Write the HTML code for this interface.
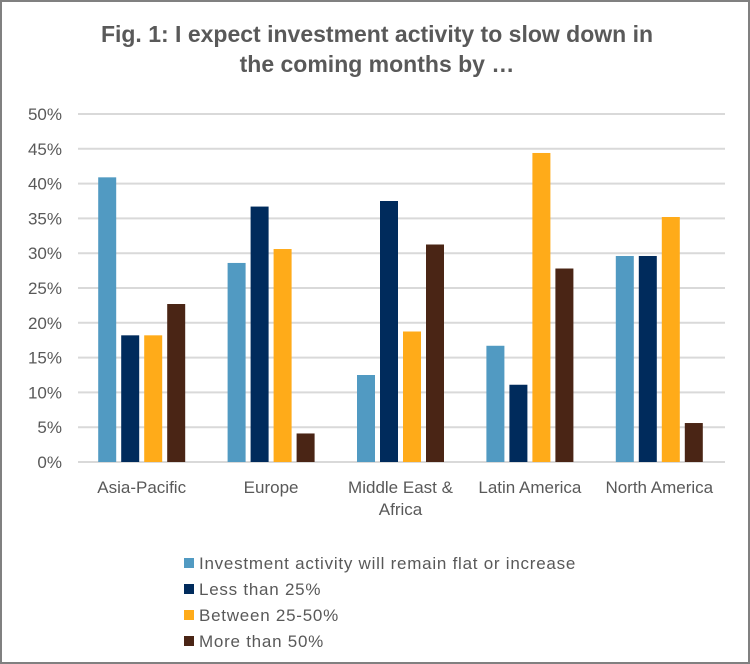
<!DOCTYPE html>
<html><head><meta charset="utf-8"><style>
html,body{margin:0;padding:0;background:#fff;}
svg{display:block;font-family:"Liberation Sans",sans-serif;}
</style></head><body>
<svg id="chart" width="750" height="664">
<rect x="1" y="1" width="748" height="662" fill="#fff" stroke="#808080" stroke-width="2"/>
<text x="377" y="42" text-anchor="middle" font-size="23" font-weight="bold" fill="#595959">Fig. 1: I expect investment activity to slow down in</text>
<text x="377" y="72" text-anchor="middle" font-size="23" font-weight="bold" fill="#595959">the coming months by …</text>
<g id="grid"></g><g id="bars"></g><g id="xlabels"></g><g id="legend"></g>
</svg>
<script>
const categories=[["Asia-Pacific"],["Europe"],["Middle East &","Africa"],["Latin America"],["North America"]];
const seriesNames=["Investment activity will remain flat or increase","Less than 25%","Between 25-50%","More than 50%"];
const flat=[40.9,28.6,12.5,16.7,29.6];
const lt25=[18.2,36.7,37.5,11.1,29.6];
const b2550=[18.2,30.6,18.75,44.4,35.2];
const gt50=[22.7,4.1,31.25,27.8,5.6];
const ticks=[0,5,10,15,20,25,30,35,40,45,50];
const series=[flat,lt25,b2550,gt50];
const colors=["#519AC2","#002B5C","#FFAB19","#4A2515"];
const NS="http://www.w3.org/2000/svg";
const x0=78,x1=725,y0=462,y1=114;
const yS=v=>y0-(v/50)*(y0-y1);
const cw=(x1-x0)/categories.length;
const xC=i=>x0+cw*(i+0.5);
function mk(t,a,p){const e=document.createElementNS(NS,t);for(const k in a)e.setAttribute(k,a[k]);p.appendChild(e);return e;}
const g=document.getElementById('grid');
ticks.forEach(t=>{
 const l=mk('line',{x1:x0,x2:x1,y1:yS(t),y2:yS(t),stroke:"#d9d9d9","stroke-width":2},g);
 
 
 const tx=mk('text',{x:62,y:yS(t)+6,"text-anchor":"end","font-size":17,fill:"#595959"},g);
 tx.textContent=t+"%";
 
 
});
const b=document.getElementById('bars');
series.forEach((s,si)=>{
 s.forEach((v,ci)=>{
  const x=xC(ci)-44.5+si*23;
  const r=mk('rect',{x:x,y:yS(v),width:18,height:y0-yS(v),fill:colors[si]},b);
  
  
 });
});
const xl=document.getElementById('xlabels');
categories.forEach((c,i)=>{
 c.forEach((ln,j)=>{
  const t=mk('text',{x:xC(i)-1,y:493+j*22,"text-anchor":"middle","font-size":17,fill:"#595959"},xl);
  t.textContent=ln;
  
  
 });
});
const lg=document.getElementById('legend');
seriesNames.forEach((n,i)=>{
 const y=564+i*26;
 const r=mk('rect',{x:184,y:y-6,width:10,height:10,fill:colors[i]},lg);
 
 
 const t=mk('text',{x:199,y:y+5,"font-size":17,"letter-spacing":0.75,fill:"#595959"},lg);
 t.textContent=n;
 
 
});
</script>
</body></html>
